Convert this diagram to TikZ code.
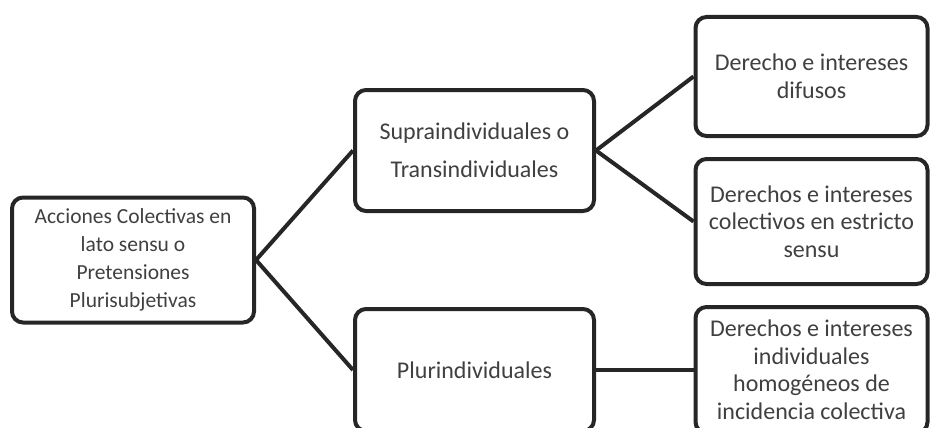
\documentclass[tikz,border=0pt]{standalone}
\usepackage{fontspec}
\setmainfont{Carlito}
\usepackage{tikz}
\usetikzlibrary{positioning,calc}

\begin{document}
\begin{tikzpicture}[x=1pt, y=-1pt,
    caja/.style={draw=black!85, line width=4pt, rounded corners=11pt, fill=white,
        align=center, text=black!75, inner sep=0pt,
        font=\fontsize{24}{27.5}\selectfont},
    enlace/.style={draw=black!85, line width=4pt}]
    \useasboundingbox (0,0) rectangle (931,428);
    \clip (0,0) rectangle (931,428);

    % Nivel 1
    \node[caja, minimum width=242pt, minimum height=125pt,
          font=\fontsize{21.5}{28}\selectfont] (acciones) at (133,260)
        {Acciones Colectivas en\\lato sensu o\\Pretensiones\\Plurisubjetivas};

    % Nivel 2
    \node[caja, minimum width=239pt, minimum height=121pt,
          font=\fontsize{24}{38}\selectfont] (supra) at (474.5,150.5)
        {Supraindividuales o\\Transindividuales};
    \node[caja, minimum width=239pt, minimum height=122pt] (pluri) at (474.5,370)
        {Plurindividuales};

    % Nivel 3
    \node[caja, minimum width=232pt, minimum height=119pt] (difusos) at (811.5,76.5)
        {Derecho e intereses\\difusos};
    \node[caja, minimum width=232pt, minimum height=125pt] (colectivos) at (811.5,221.5)
        {Derechos e intereses\\colectivos en estricto\\sensu};
    \node[caja, minimum width=232pt, minimum height=126pt] (homogeneos) at (811.5,370)
        {Derechos e intereses\\individuales\\homogéneos de\\incidencia colectiva};

    % Conectores
    \draw[enlace] (acciones.east) -- (supra.west);
    \draw[enlace] (acciones.east) -- (pluri.west);
    \draw[enlace] (supra.east) -- (difusos.west);
    \draw[enlace] (supra.east) -- (colectivos.west);
    \draw[enlace] (pluri.east) -- (homogeneos.west);
\end{tikzpicture}
\end{document}
